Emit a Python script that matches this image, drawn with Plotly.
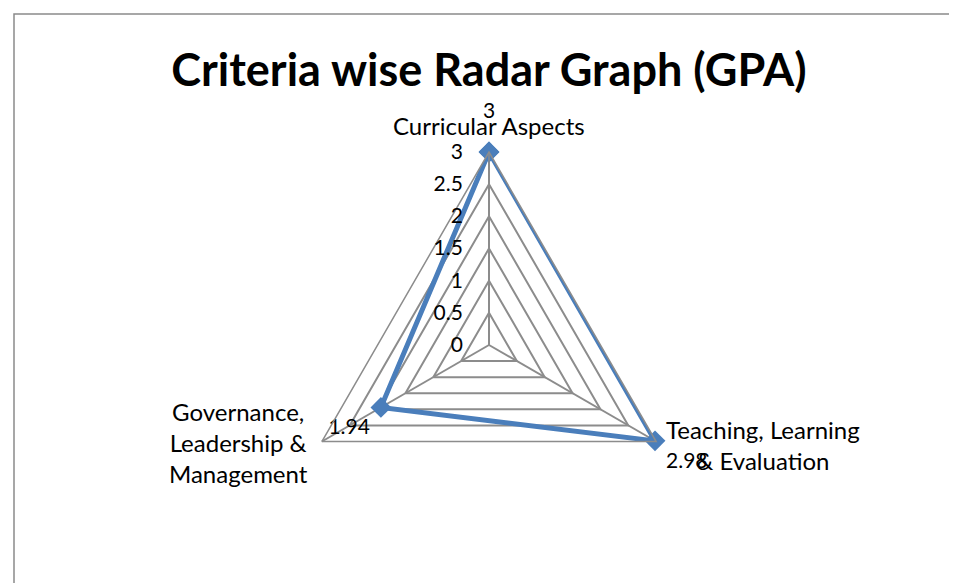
import math
import plotly.graph_objects as go

criteria = [
    "Curricular Aspects",
    "Teaching, Learning<br>& Evaluation",
    "Governance,<br>Leadership &<br>Management",
]
gpa = [3, 2.98, 1.94]
gpa_labels = ["3", "2.98", "1.94"]
radial_ticks = [0, 0.5, 1, 1.5, 2, 2.5, 3]

# the page body has an 8px margin, so work in page pixels minus 8
OFF = 8
W, H = 957 - OFF, 583 - OFF
blue = "#4A7EBB"
grey = "#8C8C8C"
font = "Lato, Liberation Sans, sans-serif"

fig = go.Figure()
# series line, closed loop
fig.add_trace(go.Scatterpolar(
    r=gpa + gpa[:1],
    theta=criteria + criteria[:1],
    mode="lines+markers",
    line=dict(color=blue, width=5),
    marker=dict(symbol="diamond", size=16, color=blue),
    showlegend=False,
    hoverinfo="skip",
))
# data labels; invisible markers of different size set the label offset
fig.add_trace(go.Scatterpolar(
    r=gpa,
    theta=criteria,
    mode="markers+text",
    text=gpa_labels,
    textposition=["top center", "bottom right", "bottom left"],
    textfont=dict(family=font, size=21, color="black"),
    marker=dict(size=[44, 16, 16], opacity=0),
    showlegend=False,
    cliponaxis=False,
))

# centre of radar in page px, outer radius in px
cx, cy, R = 489 - OFF, 345 - OFF, 193

# category labels placed just outside each spoke tip
label_style = [
    dict(xanchor="center", yanchor="bottom", xshift=0, yshift=10),
    dict(xanchor="left", yanchor="middle", xshift=8, yshift=-3),
    dict(xanchor="right", yanchor="middle", xshift=-12, yshift=-1),
]
annotations = []
for i, (name, st) in enumerate(zip(criteria, label_style)):
    ang = math.radians(90 - i * 360 / len(criteria))
    px = cx + R * math.cos(ang)
    py = cy - R * math.sin(ang)
    annotations.append(dict(
        text=name, xref="paper", yref="paper",
        x=px / W, y=1 - py / H, showarrow=False, align="center",
        font=dict(family=font, size=24, color="black"), **st,
    ))

fig.update_layout(
    width=W,
    height=H,
    margin=dict(l=0, r=0, t=0, b=0),
    paper_bgcolor="white",
    title=dict(
        text="<b>Criteria wise Radar Graph (GPA)</b>",
        x=cx / W, xanchor="center",
        y=1 - (70 - OFF) / H, yanchor="middle",
        font=dict(family=font, size=45, color="black"),
    ),
    polar=dict(
        domain=dict(x=[(cx - R) / W, (cx + R) / W],
                    y=[1 - (cy + R) / H, 1 - (cy - R) / H]),
        gridshape="linear",
        bgcolor="white",
        radialaxis=dict(
            range=[0, 3],
            tickvals=radial_ticks,
            ticktext=[f"{v:g}" for v in radial_ticks],
            angle=90,
            side="counterclockwise",
            showline=True,
            linecolor=grey,
            linewidth=1.5,
            gridcolor=grey,
            gridwidth=1.5,
            ticks="outside",
            ticklen=18,
            tickcolor="rgba(0,0,0,0)",
            tickangle=90,
            tickfont=dict(family=font, size=21, color="black"),
        ),
        angularaxis=dict(
            rotation=90,
            direction="clockwise",
            showline=True,
            linecolor=grey,
            linewidth=1.5,
            gridcolor=grey,
            gridwidth=1.5,
            ticks="",
            showticklabels=False,
        ),
    ),
    annotations=annotations,
    shapes=[dict(
        type="rect", xref="paper", yref="paper",
        x0=(14 - OFF) / W, x1=1.05, y0=-0.05, y1=1 - (14 - OFF) / H,
        line=dict(color="#8A8A8A", width=1.5),
    )],
)

fig.write_html("out.html")
